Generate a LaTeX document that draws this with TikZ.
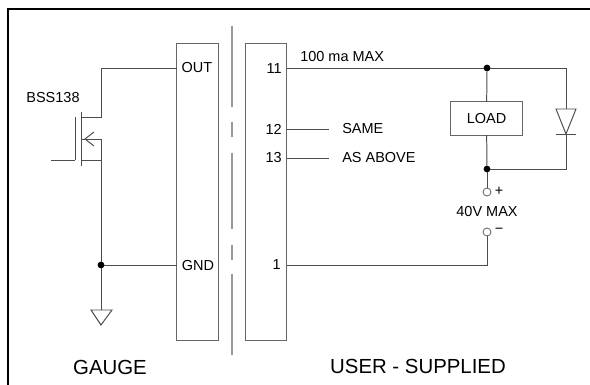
\documentclass[tikz,border=0pt]{standalone}
\usepackage{fontspec}
\setmainfont{Liberation Sans}
\tikzset{
  wire/.style={line width=0.7pt,draw=black!70},
  blockbox/.style={draw=black!60,line width=0.75pt,minimum width=1.03cm,minimum height=7.4cm,inner sep=0pt,outer sep=0pt},
  loadbox/.style={draw=black!60,line width=0.75pt,minimum width=1.78cm,minimum height=0.83cm,inner sep=0pt,outer sep=0pt,font=\fontsize{10.3pt}{12pt}\selectfont},
  barrier/.style={line width=1.1pt,draw=black!40},
  dot/.style={circle,fill=black,inner sep=0pt,minimum size=0.17cm,outer sep=0pt},
  terminal/.style={circle,draw=black!60,fill=white,line width=0.6pt,inner sep=0pt,minimum size=0.2cm,outer sep=0pt},
  pinlabel/.style={inner sep=0pt,font=\fontsize{10.3pt}{12pt}\selectfont},
  titlelabel/.style={inner sep=0pt,font=\fontsize{14.5pt}{17pt}\selectfont}
}
\begin{document}
\begin{tikzpicture}[x=0.025cm,y=-0.025cm]

    \useasboundingbox (0,0) rectangle (590,385);

    % draw frame
    \draw[line width=1.9pt,black] (8,385) -- (8,9) -- (590,9);

    % draw barrier
    \draw[barrier] (232,26) -- (232,107);
    \draw[barrier] (232,122) -- (232,137);
    \draw[barrier] (232,153) -- (232,229);
    \draw[barrier] (232,245) -- (232,260);
    \draw[barrier] (232,274) -- (232,355);

    % draw blocks
    \node[blockbox] (gauge) at (197.5,192) {};
    \node[blockbox] (user) at (266,192) {};

    % gauge pins
    \node[pinlabel] (out) at (197,68) {OUT};
    \node[pinlabel] (gnd) at (198,266) {GND};

    % user pins
    \node[pinlabel,anchor=east] (pin11) at (282,69) {11};
    \node[pinlabel,anchor=east] (pin12) at (282,129) {12};
    \node[pinlabel,anchor=east] (pin13) at (282,158) {13};
    \node[pinlabel,anchor=east] (pin1) at (281,265) {1};

    % transistor
    \node[pinlabel] (bss) at (53,98) {BSS138};
    \coordinate (drain) at (81.7,117);
    \coordinate (body) at (81.7,139);
    \coordinate (source) at (81.7,160);
    \coordinate (gatein) at (51,160);
    \coordinate (drainup) at (101,68);
    \coordinate (bodyout) at (101,139);
    \coordinate (sourceout) at (101,160);
    \draw[wire] (81.7,112) -- (81.7,166);
    \draw[wire] (75,117) -- (75,160);
    \draw[wire] (gatein) -- (75,160);
    \draw[wire] (gauge.west |- drainup) -- (drainup) -- (101,117) -- (drain);
    \draw[wire] (94,132) -- (85,139) -- (94,146);
    \draw[wire] (body) -- (bodyout);
    \draw[wire] (source) -- (sourceout);

    % ground
    \node[dot] (gndjoin) at (101,265) {};
    \coordinate (gndtop) at (101,310);
    \draw[wire] (bodyout) -- (gndjoin) -- (gndtop);
    \draw[wire] (gndjoin) -- (gauge.west |- gndjoin);
    \draw[wire] (91,310) -- (112,310) -- (101,325) -- cycle;

    % load side
    \node[dot] (topjoin) at (487,68) {};
    \node[dot] (botjoin) at (487,169) {};
    \node[loadbox] (load) at (486.5,118.5) {LOAD};
    \node[terminal] (plus) at (487,192) {};
    \node[terminal] (minus) at (487,232) {};
    \coordinate (diodetop) at (566,109);
    \coordinate (diodetip) at (566,134);
    \draw[wire] (user.east |- topjoin) -- (topjoin);
    \draw[wire] (topjoin) -- (load);
    \draw[wire] (load) -- (botjoin);
    \draw[wire] (botjoin) -- (plus);
    \draw[wire] (topjoin) -| (diodetop);
    \draw[wire] (diodetip) |- (botjoin);
    \draw[wire] (minus) |- (user.east |- pin1);

    % diode
    \draw[wire] (556,109) -- (576,109) -- (diodetip) -- cycle;
    \draw[wire] (556,134) -- (576,134);

    % stubs
    \node[pinlabel,anchor=west] (same) at (342,129) {SAME};
    \node[pinlabel,anchor=west] (above) at (342,158) {AS ABOVE};
    \draw[wire] (user.east |- same) -- (329,129);
    \draw[wire] (user.east |- above) -- (329,158);

    % labels
    \node[pinlabel,anchor=west] (maxcur) at (300,57) {100 ma MAX};
    \node[pinlabel] (maxvolt) at (487,212) {40V MAX};
    \node[pinlabel] (pluslabel) at (499,191) {+};
    \node[pinlabel] (minuslabel) at (499,231) {\textminus};
    \node[titlelabel] (gaugelabel) at (110,367) {GAUGE};
    \node[titlelabel] (userlabel) at (418,366) {USER - SUPPLIED};

\end{tikzpicture}
\end{document}
